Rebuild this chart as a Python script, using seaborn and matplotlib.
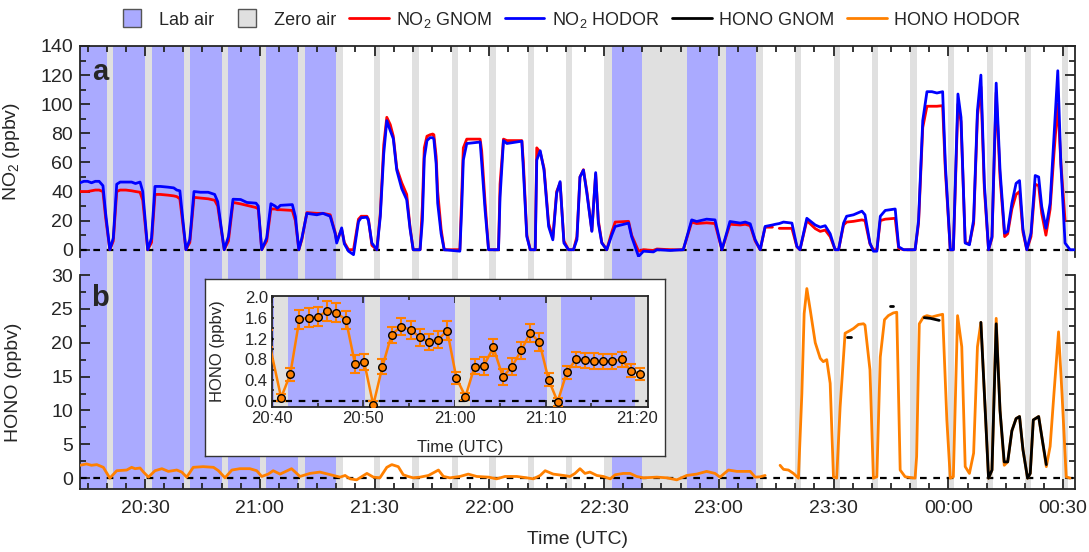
import numpy as np
import pandas as pd
import matplotlib
matplotlib.use('Agg')
import matplotlib.pyplot as plt
from matplotlib.lines import Line2D
from matplotlib.ticker import MultipleLocator, FuncFormatter
import seaborn as sns

# time is in minutes after 20:00 UTC
lab_air = [(13, 79.8), (152.0, 159.85), (171.6, 189.7)]
zero_air = [(20.1, 21.7), (30.1, 31.8), (40.2, 41.7), (50.2, 51.8), (60.0, 61.7),
            (70.1, 71.7), (79.8, 81.8), (89.8, 91.5), (99.7, 101.5), (110.2, 111.7),
            (120.0, 121.7), (130.05, 131.7), (140.1, 141.7), (150.1, 152.0), (159.85, 171.6),
            (179.7, 181.8), (189.7, 191.6), (199.9, 201.6), (210.0, 211.7), (220.0, 221.6),
            (230.0, 231.7), (240.0, 241.6), (250.0, 251.6), (259.9, 261.6), (269.7, 271.4)]

no2_t = [13.0, 14.0, 15.0, 16.0, 17.0, 18.0, 19.0, 19.7, 20.8, 21.7, 22.6, 23.5, 25.0, 26.5, 27.5,
         28.7, 29.4, 30.7, 31.7, 32.6, 34.0, 36.0, 37.5, 38.3, 39.1, 40.7, 41.7, 42.8, 44.5, 46.5,
         48.2, 49.0, 50.7, 51.8, 53.0, 55.0, 55.8, 56.6, 59.0, 59.6, 60.5, 61.8, 62.9, 64.0, 64.6,
         65.4, 68.5, 69.3, 70.2, 71.0, 72.3, 74.9, 76.5, 78.4, 79.7, 80.1, 81.4, 82.1, 83.2, 84.5,
         85.8, 86.5, 88.0, 88.4, 89.3, 90.6, 91.5, 92.4, 93.2, 94.1, 94.9, 95.8, 97.1, 98.4, 99.3,
         100.1, 101.9, 102.5, 103.0, 103.7, 104.5, 105.2, 105.5, 106.1, 106.5, 107.4, 108.2, 112.3, 112.8,
         113.2, 114.1, 117.6, 118.0, 118.9, 119.8, 122.4, 122.8, 123.7, 124.6, 128.5, 128.9, 129.8, 130.7,
         132.0, 132.4, 133.3, 134.3, 135.5, 136.6, 137.6, 138.5, 139.5, 140.7, 142.0, 142.9, 143.7, 144.6,
         145.5, 146.8, 147.8, 148.5, 149.4, 150.7, 152.0, 152.9, 156.4, 157.2, 159.0, 160.3, 162.9, 163.8,
         167.3, 170.7, 172.9, 174.2, 176.8, 179.0, 180.8, 182.9, 185.6, 186.9, 188.2, 189.5, 190.8, 192.1,
         194.0, 194.8, 195.8, 196.9, 199.1, 200.4, 201.2, 203.0, 205.2, 206.5, 207.8, 209.1, 210.4, 211.3,
         212.6, 213.4, 215.2, 217.4, 218.2, 219.5, 220.4, 221.3, 222.2, 223.5, 226.1, 227.0, 228.3, 231.3,
         232.2, 233.3, 234.4, 235.7, 237.0, 238.5, 239.2, 240.5, 241.3, 242.5, 243.3, 244.4, 245.5, 246.6,
         247.6, 248.5, 249.4, 250.5, 251.4, 252.5, 253.5, 254.7, 255.5, 256.6, 257.7, 258.6, 259.5, 260.5,
         261.6, 262.7, 263.6, 264.4, 265.5, 266.6, 267.6, 268.6, 269.4, 270.5, 271.8, 273.0]
no2_hodor = [46, 47, 47, 46, 47, 47, 44, 25, 0, 8, 45, 46.5, 46.5, 46.5, 45.5,
             46.5, 40, 0, 8, 43.5, 43.5, 43, 42.5, 41, 40.5, 0, 7, 40, 39.5, 39.5,
             38, 33, 0, 9, 34.7, 34.5, 33.5, 32.5, 32, 30, 0, 8, 31.6, 30, 28.5,
             30.5, 31, 22.8, 0, 8, 25, 24, 25, 23, 11, 4.6, 15, 4, -1, -3.4,
             19.4, 22, 22.3, 20, 4.6, 0, 22.8, 66, 88.7, 81.9, 76.3, 54.7, 42, 34.4, 14,
             0, 0, 20, 63, 75, 77, 77, 76, 59, 32, 11, 0, -1, 30,
             61.6, 73, 74, 60, 27, 0, 0, 36, 75, 73, 74.6, 55, 9, 0,
             0, 61.6, 68, 54.7, 16, 6.8, 38.8, 46.8, 4.6, 0, 0, 7, 50, 54.7,
             38.8, 12.6, 53, 18.3, 4.6, 0, 10, 16, 18.3, 9, -4.6, -1, -1.5, 0,
             -0.5, 0, 20.5, 19.4, 21, 20.5, 0, 19.4, 18.3, 19, 17.8, 6.8, 0, 16,
             17, 17.5, 18, 19, 18.3, 2.3, 0, 21.6, 17, 15.5, 16.5, 11, 0, 0,
             18.3, 23, 24, 26.5, 24, 4.6, -1, -1, 23, 27, 28, 2, 0, 0,
             20, 88.7, 108.6, 108.6, 107.7, 108.6, 59, 0, 0, 107, 91, 4.6, 3.4, 20.5,
             95.6, 120, 45.6, 0, 9, 114.5, 54.7, 11.4, 12.6, 32, 45.6, 47.5, 14, 0,
             11.4, 51, 50, 29.7, 14.8, 32, 77.5, 123, 59, 4.6, 0, 0]
no2_gnom = [40, 40, 40, 40.5, 41, 41, 40, 22, 0, 6, 40, 41, 41, 40.5, 40,
            39.5, 34, 0, 5, 38, 38, 37.5, 37, 36.5, 35, 0, 5, 36, 35.5, 35,
            34, 30, 0, 6, 32.5, 31.5, 31, 30.5, 29, 28, 0, 6, 28, 28, 27.5,
            27.5, 27, 20, 0, 7, 25.5, 25, 25, 24, 12, 6, 14, 5, 0, 0,
            21, 23, 23, 21, 3, 0, 25, 72, 91, 86, 78, 56, 46, 38, 15,
            0, 0, 30, 70, 78, 79, 79.5, 79, 64, 40, 14, 0, 0, 40,
            70, 76, 76, 68, 32, 0, 0, 45, 76, 75, 75, 60, 10, 0,
            0, 70, 67, 56, 18, 8, 40, 46, 6, 0, 0, 9, 50, 55,
            40, 13, 52, 20, 5, 0, 12, 19, 19.5, 10, -1, 0, -0.5, 0.5,
            0, 0, 19, 18, 18.5, 18, 0, 17.5, 17, 17.5, 16.5, 6, 0, 15.5,
            15.5, np.nan, 14.7, 14.7, 14.7, 2, 0, 20, 14.5, 12.6, 13.5, 9, 0, 0,
            17, 19, 19.5, 20.5, 20, 4, 0, 0, 20, 21, 21.6, 1, 0, 0,
            18, 84, 98.6, 98.6, 98.6, 99, 55, 0, 0, 100, 88, 5, 4, 18,
            92, 112, 42, 0, 8, 108, 50, 9, 11, 28, 38, 40, 12, 0,
            9, 45, 44, 25, 10, 28, 66, 100, 60, 20, np.nan, np.nan]

hono_hodor_t = [13.0, 14.7, 16.0, 17.4, 19.1, 20.8, 22.6, 25.2, 26.5, 27.4, 28.7, 29.6, 30.9, 32.6,
                34.4, 36.1, 38.3, 39.6, 40.9, 42.6, 45.2, 47.9, 49.2, 50.9, 52.7, 54.8, 57.4, 59.2,
                60.5, 62.2, 63.5, 65.3, 68.3, 70.5, 73.1, 75.7, 79.2, 81.0, 82.3, 83.6, 85.3, 88.0,
                89.7, 91.4, 93.2, 94.5, 96.2, 97.5, 98.8, 100.1, 101.9, 104.1, 106.7, 108.0, 109.7,
                112.3, 114.5, 116.7, 119.8, 121.9, 124.1, 127.2, 129.8, 131.5, 133.3, 134.6, 136.7,
                139.4, 141.1, 142.4, 143.7, 145.0, 146.3, 148.1, 149.8, 151.6, 152.9, 155.0, 156.8,
                158.5, 160.3, 163.8, 166.4, 169.0, 171.6, 174.2, 176.8, 179.0, 180.3, 182.5, 184.7,
                188.2, 189.5, 190.8, 192.1, 194.0,
                196.0, 196.9, 198.2, 199.5, 200.8, 201.7, 202.3, 203.0, 203.9, 205.2, 206.5, 207.3,
                208.2, 209.1, 209.96, 210.8, 211.7, 213.0, 214.3, 215.2, 216.5, 217.8, 218.2, 219.5,
                220.4, 221.3, 222.2, 223.3, 224.3, 225.6, 226.5, 227.4, 228.7, 231.3, 231.7, 232.4,
                233.5, 234.4, 235.7, 237.0, 238.5, 239.6, 240.5, 241.3, 242.4, 243.5, 244.4, 245.5,
                246.6, 247.6, 248.5, 250.5, 251.4, 252.5, 253.5, 254.6, 255.5, 256.6, 257.7, 258.6,
                259.5, 260.7, 261.4, 262.2, 263.6, 264.4, 265.6, 266.6, 267.6, 268.8, 269.7, 270.8, 271.8]
hono_hodor = [1.9, 2.1, 1.9, 2.0, 1.6, 0.0, 1.1, 1.2, 1.6, 1.4, 1.5, 0.9, 0.15, 1.1,
              1.4, 1.0, 1.2, 0.9, 0.15, 1.6, 1.7, 1.6, 1.1, 0.05, 1.2, 1.4, 1.4, 1.1,
              0.25, 0.6, 1.1, 0.6, 1.4, 0.25, 0.7, 0.9, 0.4, 0.15, 0.4, -0.1, -0.25, 0.7,
              0.15, 0.05, 1.6, 2.0, 1.7, 0.5, 0.25, 0.05, 0.15, 0.4, 1.2, 0.25, 0.05,
              0.25, 0.6, 0.25, 0.15, -0.1, 0.25, 0.25, 0.05, -0.1, 0.4, 1.1, 0.6,
              0.4, 0.25, 0.7, 1.4, 0.7, 0.9, 0.4, 0.25, -0.1, 0.5, 0.7, 0.7,
              0.25, 0.05, 0.15, 0.05, -0.25, 0.4, 0.6, 1.0, 0.7, 0.15, 1.2, 1.0,
              1.0, 0.15, 0.2, 0.4, np.nan,
              1.9, 1.3, 1.2, 0.7, 0.0, 12.5, 24.3, 28.0, 24.8, 20.0, 17.7, 17.2,
              17.5, 14.0, 0.2, 0.0, 10.5, 21.4, 21.8, 22.1, 22.7, 22.8, 22.6, 16.0,
              0.0, 0.2, 17.9, 23.4, 24.0, 24.4, 24.5, 1.2, 0.2, 0.0, 3.2, 22.8,
              23.8, 24.0, 23.8, 24.0, 24.2, 8.6, 0.0, 0.2, 24.0, 19.4, 1.7, 0.7,
              3.7, 19.4, 23.0, 0.0, 1.2, 23.6, 10.0, 1.9, 2.4, 7.0, 8.8, 9.1,
              4.2, 0.0, 0.7, 8.6, 9.1, 6.2, 1.7, 4.7, 12.5, 21.6, 12.5, 0.2, 0.0]

hono_gnom_t = [213.6, 214.5, 219.0, 224.8, 225.5, 229.0, 233.7, 235.3, 237.6, 243.0,
               248.5, 250.5, 251.4, 252.5, 253.5, 254.6, 255.5, 256.6, 257.7, 258.6,
               259.5, 260.7, 261.4, 262.2, 263.6, 264.4, 265.6]
hono_gnom = [20.8, 20.8, np.nan, 25.4, 25.4, np.nan, 23.7, 23.6, 23.3, np.nan,
             23.0, 0.0, 1.2, 22.8, 10.0, 2.4, 2.4, 7.0, 8.8, 9.1,
             4.2, 0.0, 0.7, 8.6, 9.1, 6.2, 2.0]

inset_t = [39.6, 41.0, 42.0, 43.0, 44.0, 45.05, 46.0, 47.05, 48.1, 49.1, 50.1, 51.1, 52.1, 53.1,
           54.1, 55.2, 56.2, 57.2, 58.2, 59.2, 60.2, 61.2, 62.2, 63.2, 64.25, 65.3, 66.3, 67.3,
           68.3, 69.3, 70.3, 71.3, 72.3, 73.3, 74.3, 75.3, 76.3, 77.3, 78.3, 79.3, 80.3]
inset_hono = [1.2, 0.06, 0.51, 1.57, 1.6, 1.62, 1.73, 1.7, 1.56, 0.71, 0.745, -0.08, 0.66, 1.27,
              1.43, 1.37, 1.22, 1.13, 1.18, 1.35, 0.44, 0.08, 0.66, 0.67, 1.03, 0.46, 0.66, 0.97,
              1.31, 1.13, 0.41, -0.02, 0.55, 0.8, 0.78, 0.77, 0.76, 0.76, 0.8, 0.58, 0.52]
inset_err = [0.16, 0.07, 0.13, 0.18, 0.18, 0.18, 0.19, 0.19, 0.18, 0.17, 0.16, 0.08, 0.14, 0.16,
             0.16, 0.17, 0.16, 0.16, 0.17, 0.18, 0.12, 0.07, 0.15, 0.17, 0.17, 0.16, 0.16, 0.16,
             0.17, 0.17, 0.13, 0.08, 0.13, 0.15, 0.15, 0.15, 0.15, 0.15, 0.15, 0.13, 0.12]

LAB = '#aaaaff'
ZERO = '#e0e0e0'
RED = '#ff0000'
BLUE = '#0000ff'
ORANGE = '#ff8000'

sns.set_theme(style='ticks')
plt.rcParams['font.family'] = ['Liberation Sans', 'DejaVu Sans']
plt.rcParams['mathtext.fontset'] = 'custom'
plt.rcParams['mathtext.rm'] = 'Liberation Sans'
plt.rcParams['mathtext.it'] = 'Liberation Sans'
plt.rcParams['axes.linewidth'] = 1.3


def hhmm(m, pos=None):
    m = int(round(m))
    return '%02d:%02d' % ((20 + m // 60) % 24, m % 60)


def draw_line(ax, t, v, color, lw=2.0, z=3):
    df = pd.DataFrame({'t': t, 'v': v})
    df['seg'] = df['v'].isna().cumsum()
    df = df.dropna()
    sns.lineplot(data=df, x='t', y='v', units='seg', estimator=None, sort=False,
                 color=color, lw=lw, ax=ax, legend=False, zorder=z)


def zero_line(ax):
    ax.axhline(0, color='black', lw=1.6, ls=(0, (3, 3)), zorder=2)


W, H = 1089, 552
fig = plt.figure(figsize=(W / 100, H / 100), dpi=100)
XL = (13.0, 273.1)
left, width = 80 / W, 995 / W

bg = fig.add_axes([left, 1 - 489 / H, width, (489 - 46) / H], zorder=0)
bg.set_xlim(XL)
bg.axis('off')
for s, e in lab_air:
    bg.axvspan(s, e, color=LAB, lw=0)
for s, e in zero_air:
    bg.axvspan(s, e, color=ZERO, lw=0)

ax_a = fig.add_axes([left, 1 - 257 / H, width, (257 - 46) / H], zorder=1)
ax_b = fig.add_axes([left, 1 - 489 / H, width, (489 - 275) / H], zorder=1)

for ax in (ax_a, ax_b):
    ax.set_facecolor('none')
    ax.set_xlim(XL)
    ax.xaxis.set_major_locator(MultipleLocator(30))
    ax.xaxis.set_minor_locator(MultipleLocator(5))
    ax.xaxis.set_major_formatter(FuncFormatter(hhmm))
    ax.tick_params(which='both', direction='in', width=1.3, labelsize=14, pad=5)
    ax.tick_params(which='major', length=7)
    ax.tick_params(which='minor', length=4)
    ax.tick_params(axis='y', which='both', left=True, right=True)
    zero_line(ax)

draw_line(ax_a, no2_t, no2_gnom, RED)
draw_line(ax_a, no2_t, no2_hodor, BLUE, z=4)
ax_a.set_ylim(-5, 140)
ax_a.yaxis.set_major_locator(MultipleLocator(20))
ax_a.yaxis.set_minor_locator(MultipleLocator(10))
ax_a.spines['bottom'].set_visible(False)
ax_a.tick_params(axis='x', which='both', bottom=False, top=True, labelbottom=False)
ax_a.set_xlabel('')
ax_a.set_ylabel('NO$_2$ (ppbv)', fontsize=14)
ax_a.yaxis.set_label_coords(-0.058, 0.5)

draw_line(ax_b, hono_hodor_t, hono_hodor, ORANGE)
draw_line(ax_b, hono_gnom_t, hono_gnom, 'black', z=4)
ax_b.set_ylim(-1.6, 30)
ax_b.yaxis.set_major_locator(MultipleLocator(5))
ax_b.yaxis.set_minor_locator(MultipleLocator(2.5))
ax_b.spines['top'].set_visible(False)
ax_b.tick_params(axis='x', which='both', bottom=True, top=False, pad=8)
ax_b.set_xlabel('Time (UTC)', fontsize=14)
ax_b.xaxis.set_label_coords(0.5, -0.195)
ax_b.set_ylabel('HONO (ppbv)', fontsize=14)
ax_b.yaxis.set_label_coords(-0.058, 0.5)

fig.text(100 / W, 1 - 72 / H, 'a', fontsize=21, fontweight='bold', ha='center', va='center')
fig.text(100 / W, 1 - 298 / H, 'b', fontsize=21, fontweight='bold', ha='center', va='center')

# inset with the lab air cycles
box = fig.add_axes([205 / W, 1 - 456 / H, 460 / W, 177 / H], zorder=2)
box.set_xticks([])
box.set_yticks([])
box.set_facecolor('white')
for sp in box.spines.values():
    sp.set_linewidth(1.0)
    sp.set_color('#333333')

ins = fig.add_axes([272 / W, 1 - 407 / H, 376 / W, 111 / H], zorder=3)
ins.set_facecolor(LAB)
ins.set_xlim(40, 81.2)
ins.set_ylim(-0.12, 2.02)
for s, e in zero_air:
    ins.axvspan(s, e, color=ZERO, lw=0)
zero_line(ins)
ins.errorbar(inset_t, inset_hono, yerr=inset_err, fmt='none', ecolor=ORANGE,
             elinewidth=1.5, capsize=3.5, capthick=1.5, zorder=3)
sns.lineplot(x=inset_t, y=inset_hono, color=ORANGE, lw=1.8, ax=ins, zorder=4)
sns.scatterplot(x=inset_t, y=inset_hono, color=ORANGE, edgecolor='black', linewidth=1.0,
                s=30, ax=ins, zorder=5)
ins.xaxis.set_major_locator(MultipleLocator(10))
ins.xaxis.set_minor_locator(MultipleLocator(5))
ins.xaxis.set_major_formatter(FuncFormatter(hhmm))
ins.yaxis.set_major_locator(MultipleLocator(0.4))
ins.yaxis.set_minor_locator(MultipleLocator(0.2))
ins.yaxis.set_major_formatter(FuncFormatter(lambda v, p: '%.1f' % v))
ins.tick_params(which='both', direction='in', top=True, right=True, width=1.2, labelsize=12, pad=3)
ins.tick_params(which='major', length=5)
ins.tick_params(which='minor', length=3)
ins.set_xlabel('Time (UTC)', fontsize=12)
ins.xaxis.set_label_coords(0.5, -0.3)
ins.set_ylabel('HONO (ppbv)', fontsize=12)
ins.yaxis.set_label_coords(-0.125, 0.5)

handles = [
    Line2D([], [], marker='s', ls='none', ms=13, mfc=LAB, mec='#555555', mew=1),
    Line2D([], [], marker='s', ls='none', ms=13, mfc=ZERO, mec='#555555', mew=1),
    Line2D([], [], color=RED, lw=2),
    Line2D([], [], color=BLUE, lw=2),
    Line2D([], [], color='black', lw=2),
    Line2D([], [], color=ORANGE, lw=2),
]
labels = ['Lab air', 'Zero air', 'NO$_2$ GNOM', 'NO$_2$ HODOR', 'HONO GNOM', 'HONO HODOR']
fig.legend(handles, labels, loc='upper center', bbox_to_anchor=(0.52, 1.012), ncol=6,
           frameon=False, fontsize=13, handlelength=2.2, handletextpad=0.4, columnspacing=0.7)

fig.savefig('out.png', dpi=100)
